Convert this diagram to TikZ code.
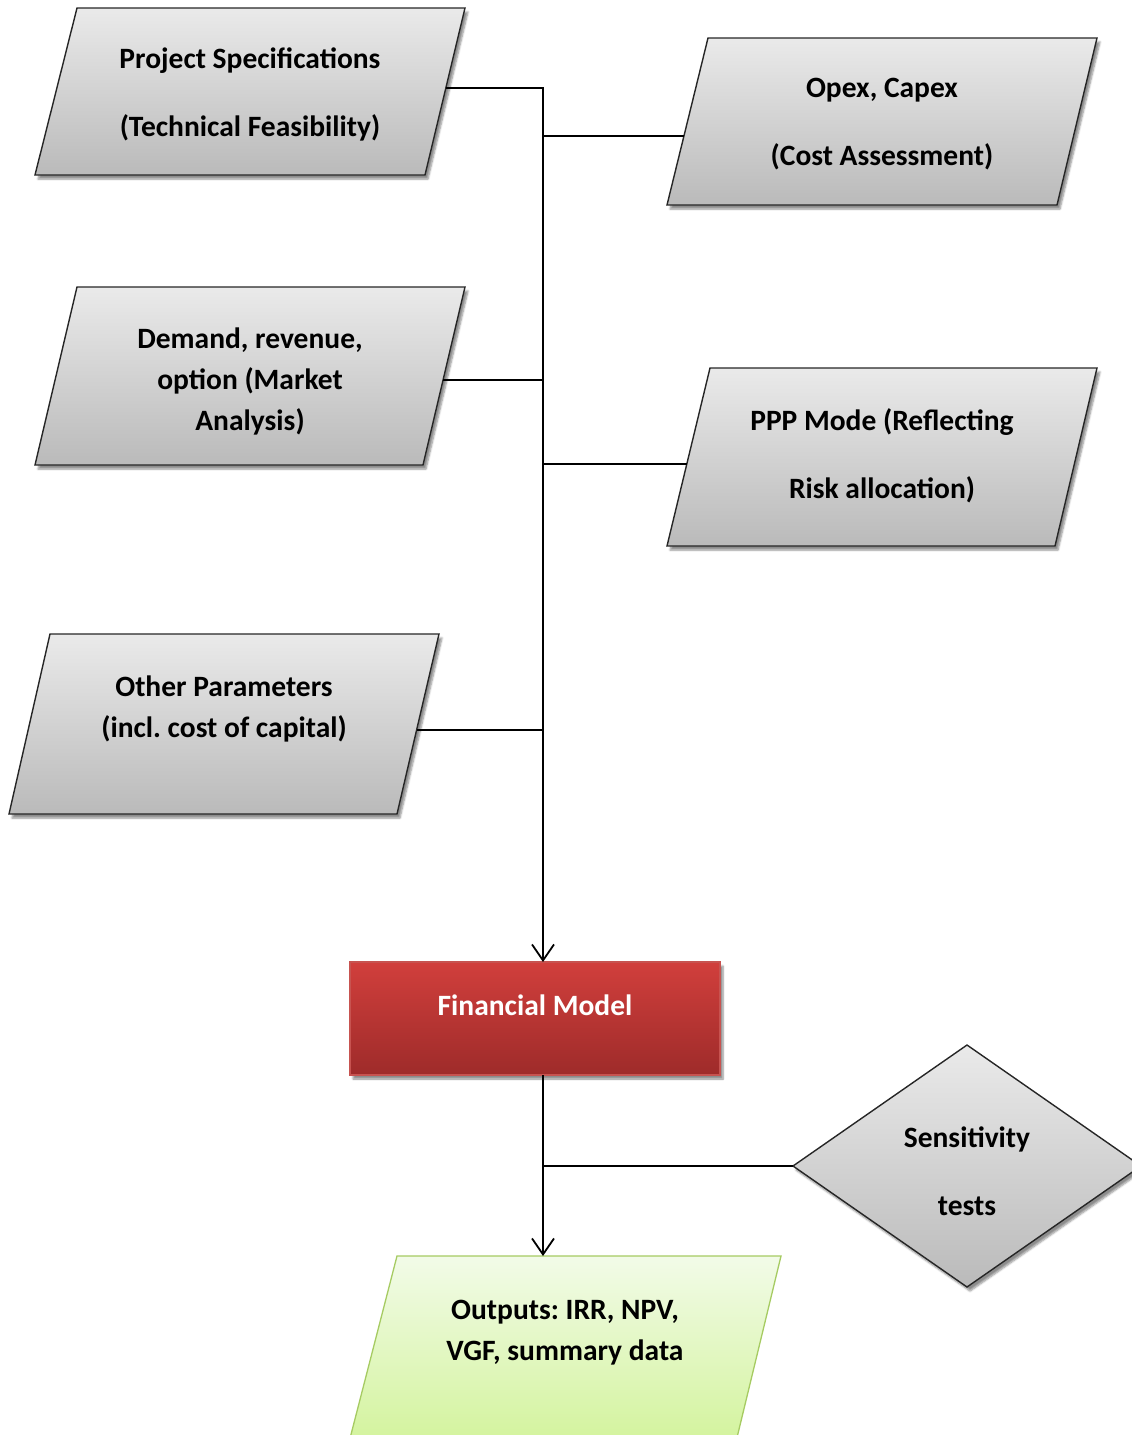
\documentclass[tikz,border=0pt]{standalone}
\usepackage{fontspec}
\setmainfont{Carlito}
\usetikzlibrary{arrows.meta,shadows.blur}

\definecolor{boxTop}{HTML}{EAEAEA}
\definecolor{boxBot}{HTML}{BABABA}
\definecolor{fmTop}{HTML}{D13F3C}
\definecolor{fmBot}{HTML}{9E2B2A}
\definecolor{fmEdge}{HTML}{C75350}
\definecolor{outTop}{HTML}{F2FBE8}
\definecolor{outBot}{HTML}{D2F39A}
\definecolor{outEdge}{HTML}{A6CB62}

\begin{document}
\frenchspacing
\begin{tikzpicture}[x=1pt,y=-1pt,
  inbox/.style={draw=black!85, line width=1.4pt, line join=miter,
    top color=boxTop, bottom color=boxBot,
    blur shadow={shadow xshift=3pt, shadow yshift=-4pt, shadow opacity=45, shadow blur steps=6}},
  fmbox/.style={draw=fmEdge, line width=1.2pt, top color=fmTop, bottom color=fmBot,
    minimum width=370pt, minimum height=113pt, inner sep=0pt,
    blur shadow={shadow xshift=3pt, shadow yshift=-4pt, shadow opacity=45, shadow blur steps=6}},
  outbox/.style={draw=outEdge, line width=1.3pt, top color=outTop, bottom color=outBot},
  txt/.style={font=\bfseries\fontsize{29.5}{41}\selectfont, align=center, text=black, inner sep=0pt},
  link/.style={line width=1.8pt, black},
  flow/.style={link, -{Straight Barb[length=16pt, width=22pt, line width=1.8pt]}}
]
\useasboundingbox (0,0) rectangle (1132,1435);
\clip (0,0) rectangle (1132,1435);

% input parallelograms
\path[inbox] (77,8) -- (465,8) -- (425,175) -- (35,175) -- cycle;
\path[inbox] (708,38) -- (1097,38) -- (1057,205) -- (667,205) -- cycle;
\path[inbox] (77,287) -- (465,287) -- (423,465) -- (35,465) -- cycle;
\path[inbox] (710,368) -- (1097,368) -- (1055,546) -- (667,546) -- cycle;
\path[inbox] (50,634) -- (439,634) -- (397,814) -- (9,814) -- cycle;

% sensitivity diamond
\path[inbox] (793,1166) -- (967,1045) -- (1141,1166) -- (967,1287) -- cycle;

% outputs parallelogram
\path[outbox] (397,1256) -- (781,1256) -- (734,1450) -- (347,1450) -- cycle;

% financial model
\node[fmbox] (fm) at (535,1018.5) {};

% labels
\node[txt] (ps) at (250,94) {Project Specifications\\[27pt](Technical Feasibility)};
\node[txt] (op) at (882,124) {Opex, Capex\\[27pt](Cost Assessment)};
\node[txt] (dm) at (250,381) {Demand, revenue,\\option (Market\\Analysis)};
\node[txt] (pp) at (882,456) {PPP Mode (Reflecting\\[27pt]Risk allocation)};
\node[txt] (ot) at (224,709) {Other Parameters\\(incl. cost of capital)};
\node[txt, text=white] (fmt) at (535,1005) {Financial Model};
\node[txt] (se) at (967,1171) {Sensitivity\\[27pt]tests};
\node[txt] (ou) at (565,1333) {Outputs: IRR, NPV,\\VGF, summary data};

% attachment points on the shape edges
\coordinate (psR) at (446,88);
\coordinate (opL) at (684,136);
\coordinate (dmR) at (443,380);
\coordinate (ppL) at (687,464);
\coordinate (otR) at (417,730);
\coordinate (seW) at (793,1166);
\coordinate (ouN) at (543,1256);
\coordinate (spine) at (543,88);
\coordinate (fmN) at (543,962);
\coordinate (fmS) at (543,1075);

% connectors
\draw[flow] (psR) -| (fmN);
\draw[link] (opL) -- (opL -| spine);
\draw[link] (dmR) -- (dmR -| spine);
\draw[link] (ppL) -- (ppL -| spine);
\draw[link] (otR) -- (otR -| spine);
\draw[flow] (fmS) -- (ouN);
\draw[link] (seW) -- (seW -| spine);
\end{tikzpicture}
\end{document}
